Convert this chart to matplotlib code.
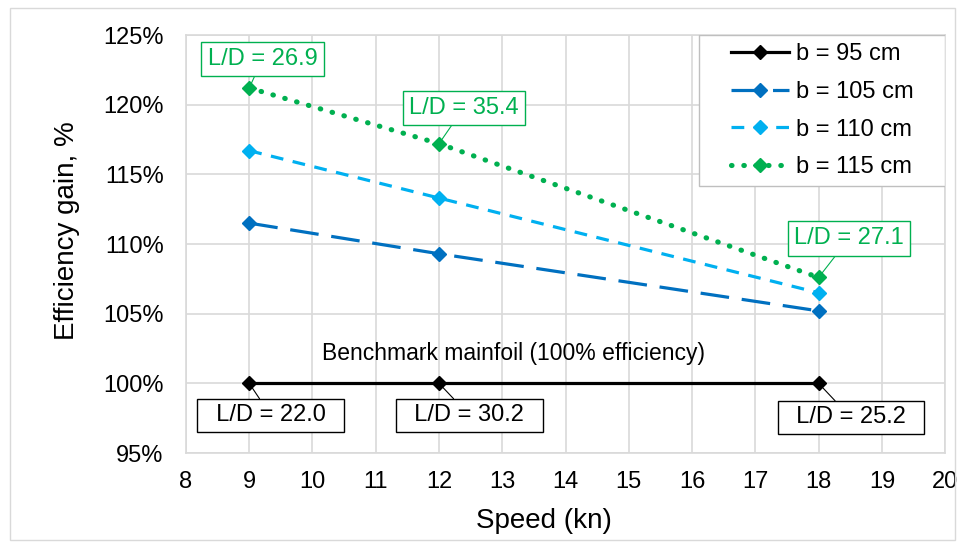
import matplotlib
matplotlib.use("Agg")
import matplotlib.pyplot as plt
from matplotlib.patches import Rectangle
from matplotlib.ticker import FuncFormatter

plt.rcParams['font.family'] = ['Liberation Sans', 'DejaVu Sans']

speed = [9, 12, 18]
spans = ['b = 95 cm', 'b = 105 cm', 'b = 110 cm', 'b = 115 cm']
gain = {
    'b = 95 cm': [100.0, 100.0, 100.0],
    'b = 105 cm': [111.5, 109.3, 105.2],
    'b = 110 cm': [116.7, 113.3, 106.5],
    'b = 115 cm': [121.2, 117.2, 107.6],
}
ld_base = ['22.0', '30.2', '25.2']
ld_best = ['26.9', '35.4', '27.1']

colors = ['#000000', '#0070C0', '#00B0F0', '#00B050']
styles = ['-', (0, (9, 4)), (0, (4, 3)), (0, (0.1, 2.3))]
widths = [2.3, 2.3, 2.3, 3.7]

fig = plt.figure(figsize=(9.61, 5.47), dpi=100)
ax = fig.add_axes([0.1935, 0.1718, 0.790, 0.7642])

# thin grey frame round the whole chart
fig.patches.append(Rectangle((0.0104, 0.0128), 0.9834, 0.9722, transform=fig.transFigure,
                             fill=False, edgecolor='#D9D9D9', linewidth=1.0))

for name, c, ls, lw in zip(spans, colors, styles, widths):
    ax.plot(speed, gain[name], color=c, linestyle=ls, linewidth=lw,
            dash_capstyle='round' if name == 'b = 115 cm' else 'butt',
            marker='D', markersize=7, label=name, zorder=3)

green = '#00B050'
# L/D labels for the widest foil
best_pos = [(9.21, 123.27), (12.39, 119.77), (18.48, 110.4)]
for x, y, lab, pos in zip(speed, gain['b = 115 cm'], ld_best, best_pos):
    ax.annotate('L/D = ' + lab, xy=(x, y), xytext=pos, ha='center', va='center',
                fontsize=17, color=green,
                bbox=dict(boxstyle='square,pad=0.26', fc='white', ec=green, lw=1.0),
                arrowprops=dict(arrowstyle='-', color=green, lw=0.8, shrinkA=0, shrinkB=3),
                zorder=5)

# L/D labels for the benchmark
base_pos = [(9.34, 97.7), (12.48, 97.7), (18.51, 97.55)]
for x, y, lab, pos in zip(speed, gain['b = 95 cm'], ld_base, base_pos):
    ax.annotate('  L/D = ' + lab + '  ', xy=(x, y), xytext=pos, ha='center', va='center',
                fontsize=17, color='black',
                bbox=dict(boxstyle='square,pad=0.22', fc='white', ec='black', lw=1.0),
                arrowprops=dict(arrowstyle='-', color='black', lw=0.8, shrinkA=0, shrinkB=3),
                zorder=5)

ax.text(13.18, 102.13, 'Benchmark mainfoil (100% efficiency)', ha='center', va='center',
        fontsize=16.5, color='black')

ax.set_xlim(8, 20)
ax.set_ylim(95, 125)
ax.set_xticks(range(8, 21))
ax.set_yticks(range(95, 126, 5))
ax.yaxis.set_major_formatter(FuncFormatter(lambda v, p: '%d%%' % v))
ax.tick_params(length=0, labelsize=17)
ax.tick_params(axis='y', pad=16)
ax.tick_params(axis='x', pad=13)
ax.grid(True, color='#D9D9D9', linewidth=1.2)
ax.set_axisbelow(True)
for s in ax.spines.values():
    s.set_color('#D9D9D9')
    s.set_linewidth(1.2)

ax.set_xlabel('Speed (kn)', fontsize=20)
ax.set_ylabel('Efficiency gain, %', fontsize=20)
ax.xaxis.set_label_coords(0.471, -0.131)
ax.yaxis.set_label_coords(-0.140, 0.533)

# legend box drawn separately so it can have wide side margins
ax.add_patch(Rectangle((0.676, 0.639), 0.324, 0.361, transform=ax.transAxes,
                       fc='white', ec='#BFBFBF', lw=1.0, zorder=4))
leg = ax.legend(loc='upper left', bbox_to_anchor=(0.718, 0.980), fontsize=17, frameon=False,
                handlelength=2.46, handletextpad=0.3, labelspacing=0.66,
                borderpad=0, borderaxespad=0)
leg.set_zorder(6)

fig.savefig('out.png', dpi=100)
